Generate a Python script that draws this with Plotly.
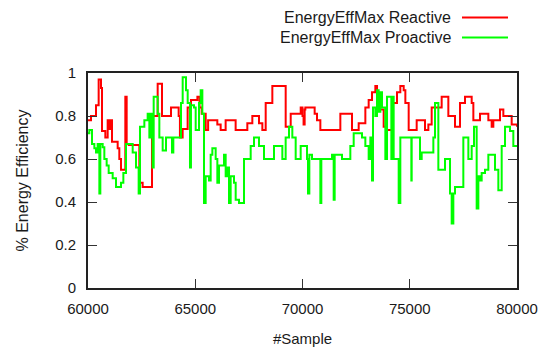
import plotly.graph_objects as go

# Reactive series (step data)
reactive_x = [60000, 60140, 60373, 60497, 60606, 60653, 60808, 60917, 60980, 61026, 61119, 61383,
              61460, 61538, 61740, 61803, 61900, 62393, 62548, 62984, 63248, 63450, 63869, 64226,
              64286, 64412, 64645, 64800, 64942, 65100, 65200, 65300, 65487, 65600, 66029, 66184,
              66417, 66883, 67428, 67661, 67972, 68128, 68284, 68594, 69216, 69450, 69916, 70000,
              70050, 70100, 70132, 70288, 70567, 70676, 70832, 71764, 72308, 72619, 72930, 73085,
              73240, 73396, 73474, 73582, 73784, 73940, 74173, 74406, 74561, 74717, 74795, 74950,
              75323, 75711, 75867, 76022, 76488, 76799, 77110, 77343, 77576, 77887, 77965, 78275,
              78664, 78819, 78897, 79208, 79363, 79752, 80000]
reactive_y = [0.78, 0.80, 0.85, 0.97, 0.93, 0.73, 0.70, 0.78, 0.74, 0.78, 0.68, 0.65,
              0.60, 0.55, 0.89, 0.67, 0.665, 0.49, 0.47, 0.80, 0.95, 0.80, 0.84, 0.80,
              0.70, 0.74, 0.84, 0.875, 0.875, 0.89, 0.84, 0.81, 0.735, 0.78, 0.76, 0.735,
              0.78, 0.735, 0.766, 0.80, 0.766, 0.735, 0.86, 0.94, 0.75, 0.81, 0.84, 0.80,
              0.76, 0.83, 0.84, 0.84, 0.81, 0.78, 0.735, 0.81, 0.735, 0.766, 0.84, 0.875,
              0.91, 0.94, 0.86, 0.83, 0.75, 0.735, 0.86, 0.91, 0.94, 0.92, 0.86, 0.735,
              0.78, 0.735, 0.76, 0.84, 0.89, 0.80, 0.75, 0.86, 0.89, 0.86, 0.78, 0.81,
              0.78, 0.75, 0.78, 0.83, 0.80, 0.76, 0.75]

# Proactive series (step data)
proactive_x = [60000, 60062, 60187, 60296, 60373, 60451, 60529, 60575, 60684, 60762, 60870, 60964,
               61150, 61306, 61539, 61648, 61772, 62083, 62238, 62362, 62424, 62627, 62782, 62860,
               62937, 63015, 63062, 63248, 63326, 63481, 63637, 63916, 63978, 64336, 64414, 64569,
               64647, 64755, 64800, 64942, 65020, 65175, 65253, 65331, 65408, 65486, 65641, 65719,
               65797, 65952, 66030, 66108, 66341, 66418, 66496, 66574, 66651, 66807, 66885, 67040,
               67273, 67584, 67739, 67972, 68205, 68671, 69060, 69215, 69371, 69526, 69682, 69915,
               70210, 70257, 70319, 70443, 70832, 70878, 71376, 71453, 71500, 71842, 72230, 72386,
               72774, 72930, 73085, 73163, 73240, 73287, 73396, 73474, 73551, 73629, 73706, 73862,
               73940, 74142, 74204, 74250, 74484, 74561, 75074, 75090, 75478, 75556, 76100, 76178,
               76333, 76644, 76877, 76955, 77032, 77110, 77498, 77732, 77887, 77996, 78120, 78198,
               78276, 78353, 78508, 78664, 78975, 79130, 79286, 79441, 79674, 79829, 80000]
proactive_y = [0.72, 0.735, 0.67, 0.65, 0.63, 0.67, 0.44, 0.67, 0.655, 0.60, 0.57, 0.535,
               0.51, 0.47, 0.49, 0.535, 0.67, 0.63, 0.56, 0.44, 0.75, 0.78, 0.81, 0.70,
               0.81, 0.56, 0.89, 0.81, 0.70, 0.64, 0.70, 0.63, 0.70, 0.86, 0.98, 0.92,
               0.86, 0.56, 0.85, 0.84, 0.735, 0.86, 0.92, 0.81, 0.395, 0.52, 0.50, 0.62,
               0.65, 0.60, 0.49, 0.57, 0.62, 0.52, 0.56, 0.395, 0.52, 0.49, 0.41, 0.395,
               0.60, 0.66, 0.70, 0.66, 0.60, 0.66, 0.60, 0.70, 0.75, 0.70, 0.60, 0.66,
               0.60, 0.44, 0.62, 0.60, 0.395, 0.60, 0.62, 0.41, 0.62, 0.60, 0.66, 0.72,
               0.70, 0.66, 0.60, 0.70, 0.50, 0.84, 0.80, 0.92, 0.82, 0.91, 0.84, 0.60,
               0.89, 0.60, 0.89, 0.60, 0.395, 0.70, 0.50, 0.70, 0.60, 0.63, 0.70, 0.86,
               0.55, 0.60, 0.44, 0.30, 0.44, 0.47, 0.70, 0.60, 0.66, 0.75, 0.37, 0.52,
               0.50, 0.535, 0.55, 0.62, 0.55, 0.455, 0.66, 0.75, 0.73, 0.66, 0.66]

x_ticks = [60000, 65000, 70000, 75000, 80000]
y_ticks = [0, 0.2, 0.4, 0.6, 0.8, 1]
y_tick_labels = ["0", "0.2", "0.4", "0.6", "0.8", "1"]
series_names = ["EnergyEffMax Reactive", "EnergyEffMax Proactive"]
series_colors = ["#ff0000", "#00ff00"]

FONT = "Liberation Sans, Arial, sans-serif"
TXT = "#1a1a1a"

fig = go.Figure()
fig.add_trace(go.Scatter(x=reactive_x, y=reactive_y, mode="lines", line_shape="hv",
                         line=dict(color=series_colors[0], width=2), name=series_names[0],
                         showlegend=False))
fig.add_trace(go.Scatter(x=proactive_x, y=proactive_y, mode="lines", line_shape="hv",
                         line=dict(color=series_colors[1], width=2), name=series_names[1],
                         showlegend=False))

axis_common = dict(showgrid=False, zeroline=False, showline=True, mirror="ticks",
                   linecolor="#222222", linewidth=2, ticks="inside", ticklen=9,
                   tickwidth=1, tickcolor="#333333", automargin=False,
                   tickfont=dict(family=FONT, size=15, color=TXT))

fig.update_xaxes(range=[60000, 80000], tickvals=x_ticks, ticktext=[str(v) for v in x_ticks],
                 title=dict(text="#Sample", font=dict(family=FONT, size=15, color=TXT), standoff=17),
                 ticklabelstandoff=6, **axis_common)
fig.update_yaxes(range=[0, 1], tickvals=y_ticks, ticktext=y_tick_labels,
                 title=dict(text="% Energy Efficiency", font=dict(family=FONT, size=16, color=TXT), standoff=23),
                 ticklabelstandoff=7, **axis_common)

# gnuplot-style legend: text right-aligned, sample line to its right
PLOT_TOP = 65
PLOT_H = 215
legend_box_top = [0.5, 20.5]   # figure pixels from top
legend_line_y = [9.5, 29.5]
for i, (name, col) in enumerate(zip(series_names, series_colors)):
    fig.add_annotation(x=(452 - 88) / 429, y=1 + (PLOT_TOP - legend_box_top[i]) / PLOT_H,
                       xref="paper", yref="paper", text=name,
                       showarrow=False, xanchor="right", yanchor="top", borderpad=0,
                       font=dict(family=FONT, size=16, color=TXT))
    yp = 1 + (PLOT_TOP - legend_line_y[i]) / PLOT_H
    fig.add_shape(type="line", xref="paper", yref="paper",
                  x0=(462 - 88) / 429, x1=(508 - 88) / 429, y0=yp, y1=yp,
                  line=dict(color=col, width=2))

# page body adds an 8px offset, so the figure is sized 8px smaller
fig.update_layout(width=545, height=345, margin=dict(l=80, r=36, t=65, b=65),
                  paper_bgcolor="white", plot_bgcolor="white")

fig.write_html("out.html")
